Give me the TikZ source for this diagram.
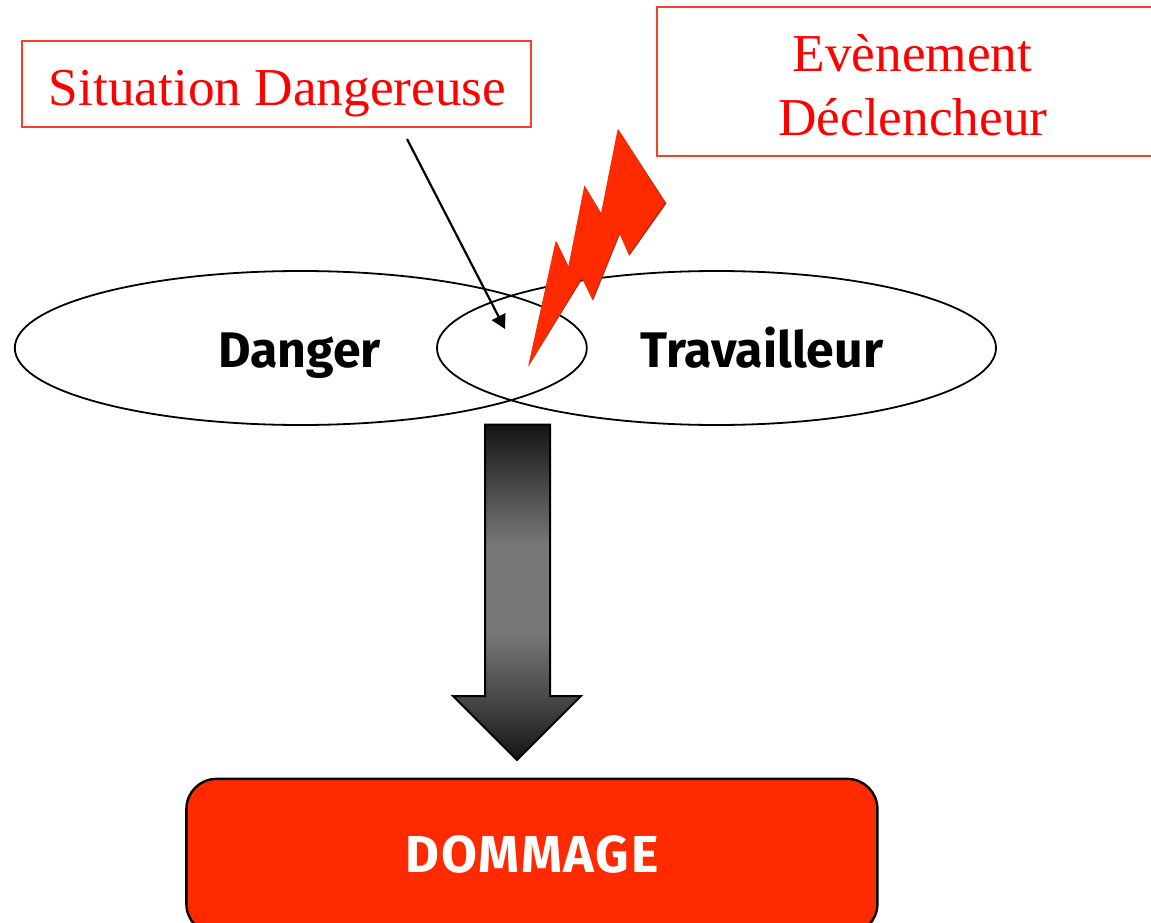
\documentclass[tikz,border=0pt]{standalone}
\usepackage{fontspec}
\setmainfont{Liberation Serif}
\newfontfamily\labelfont{Fira Sans}
\usetikzlibrary{shapes.geometric,arrows.meta}
\definecolor{boltred}{HTML}{FF2A00}
\definecolor{boltdark}{HTML}{A82A14}
\definecolor{boxline}{HTML}{F5402A}
\pgfdeclareverticalshading{arrowgrad}{100bp}{
  color(0bp)=(black!92!white);
  color(25bp)=(black!92!white);
  color(34bp)=(black!72!white);
  color(44bp)=(black!53!white);
  color(57bp)=(black!53!white);
  color(66bp)=(black!72!white);
  color(75bp)=(black!92!white);
  color(100bp)=(black!92!white)}
\tikzset{
  x=1pt,y=-1pt,
  redbox/.style={draw=boxline,line width=2pt,fill=white,inner sep=0pt,anchor=north west},
  redtext/.style={text=red,font=\fontsize{53.3}{64}\selectfont,inner sep=0pt,anchor=base},
  oval/.style={draw=black,line width=1.8pt,ellipse,inner sep=0pt},
  oname/.style={font=\labelfont\bfseries\fontsize{50}{56}\selectfont,text=black,inner sep=0pt,anchor=base},
  bolt/.style={fill=boltred,draw=none},
  pointer/.style={draw=black,line width=2.2pt,-{Triangle[length=14pt,width=15pt]}},
  bigarrow/.style={shading=arrowgrad,draw=black,line width=2pt,line join=miter},
  damage/.style={draw=black,line width=2.4pt,fill=boltred,rounded corners=30pt,anchor=north west}
}
\begin{document}
\begin{tikzpicture}
\useasboundingbox (0,0) rectangle (1151,923);
\clip (0,0) rectangle (1151,923);
\fill[white] (0,0) rectangle (1151,923);
\node[redbox,minimum width=509pt,minimum height=86pt] (sit) at (21,40.5) {};
\node[redtext] (sittext) at (277.5,105.5) {Situation Dangereuse};
\node[redbox,minimum width=520pt,minimum height=149pt] (evt) at (656,6) {};
\node[redtext] (evttext) at (912.5,71.5) {Evènement};
\node[redtext] (dectext) at (913,135.5) {Déclencheur};
\node[oval,minimum width=572pt,minimum height=154pt] (dangerov) at (300.8,348) {};
\node[oval,minimum width=559pt,minimum height=154pt] (travov) at (716.5,348) {};
\node[oname] (danger) at (299.5,367) {Danger};
\node[oname] (trav) at (762,367) {Travailleur};
\coordinate (ptstart) at (407,139);
\coordinate (ptend) at (505,329);
\draw[pointer] (ptstart) -- (ptend);
\path[fill=boltdark] (618.4,129.5) -- (666.4,203.4) -- (629.4,255.7) -- (620,234) -- (593,300.7) -- (582.4,278.7) -- (528.3,366.7) -- (556.4,241.4) -- (569,267.4) -- (585,186.4) -- (601.7,214) -- cycle;
\path[bolt] (617.7,129) -- (665,202.7) -- (628.7,254.5) -- (619.3,233.3) -- (592.3,299.5) -- (581.7,277.5) -- (528.3,366) -- (555.7,240.7) -- (568.3,266.7) -- (584.3,185.7) -- (601,213.3) -- cycle;
\path[bigarrow] (485,424.5) -- (550,424.5) -- (550,696) -- (581,696) -- (517,760) -- (453,696) -- (485,696) -- cycle;
\node[damage,minimum width=691pt,minimum height=155pt] (dom) at (185.2,777.7) {};
\node[font=\labelfont\bfseries\fontsize{52}{56}\selectfont\addfontfeature{LetterSpace=3.5},text=white,inner sep=0pt,anchor=base] (domtext) at (532,872) {DOMMAGE};
\end{tikzpicture}
\end{document}
